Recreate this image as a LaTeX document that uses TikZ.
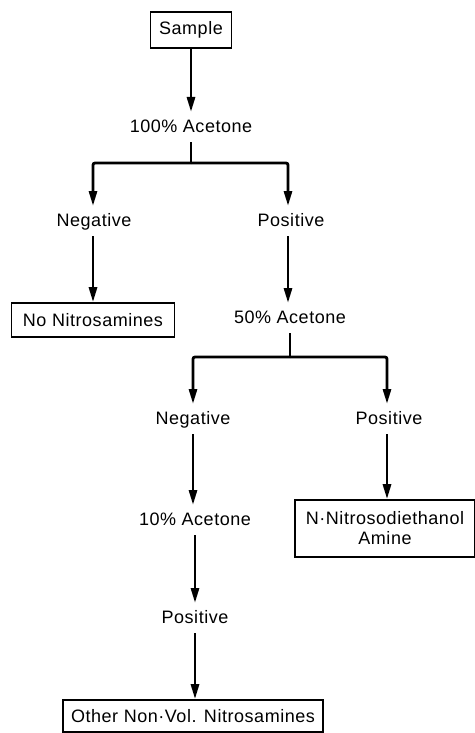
\documentclass[tikz,border=0pt]{standalone}
\usepackage{fontspec}
\setmainfont{Liberation Sans}[LetterSpace=3]
\usetikzlibrary{arrows.meta}
\begin{document}
\begin{tikzpicture}[x=1pt,y=-1pt,
  every node/.style={font=\fontsize{18}{21}\selectfont},
  lbl/.style={inner sep=0pt, text height=13pt, text depth=3pt, outer sep=7pt},
  boxed/.style={draw, line width=1.6pt, inner sep=0pt, align=center},
  arr/.style={line width=2.8pt, -{Triangle[length=15pt,width=8pt]}, rounded corners=2pt},
  ln/.style={line width=2.8pt}]
\useasboundingbox (0,0) rectangle (474,733);
\node[boxed, minimum width=81pt, minimum height=36pt] (sample) at (191,30) {Sample};
\node[lbl] (a100) at (191,127) {100\% Acetone};
\node[lbl] (neg1) at (94,221) {Negative};
\node[lbl] (pos1) at (291,221) {Positive};
\node[boxed, minimum width=163pt, minimum height=34pt] (nonitro) at (93,320) {No Nitrosamines};
\node[lbl] (a50) at (290,318) {50\% Acetone};
\node[lbl] (neg2) at (193,419) {Negative};
\node[lbl] (pos2) at (389,419) {Positive};
\node[boxed, minimum width=180pt, minimum height=57pt] (ndea) at (385,528.5) {N·Nitrosodiethanol\\[-1pt]Amine};
\node[lbl] (a10) at (195,520) {10\% Acetone};
\node[lbl] (pos3) at (195,618) {Positive};
\node[boxed, minimum width=260pt, minimum height=32pt] (other) at (193,716) {Other Non·Vol. Nitrosamines};
\coordinate (j1) at (191,163);
\coordinate (j2) at (290,357);
\draw[arr] (sample.south) -- (a100.north);
\draw[ln] (a100.south) -- (j1);
\draw[arr] (j1) -| ([xshift=-1pt]neg1.north);
\draw[arr] (j1) -| ([xshift=-3pt]pos1.north);
\draw[arr] ([xshift=-1pt]neg1.south) -- ([xshift=-1pt]neg1.south |- nonitro.north);
\draw[arr] ([xshift=-3pt]pos1.south) -- ([xshift=-3pt]pos1.south |- a50.north);
\draw[ln] (a50.south) -- (j2);
\draw[arr] (j2) -| (neg2.north);
\draw[arr] (j2) -| ([xshift=-2pt]pos2.north);
\draw[arr] ([xshift=-2pt]pos2.south) -- ([xshift=-2pt]pos2.south |- ndea.north);
\draw[arr] (neg2.south) -- (neg2.south |- a10.north);
\draw[arr] (a10.south) -- (a10.south |- pos3.north);
\draw[arr] (pos3.south) -- (pos3.south |- other.north);
\end{tikzpicture}
\end{document}
